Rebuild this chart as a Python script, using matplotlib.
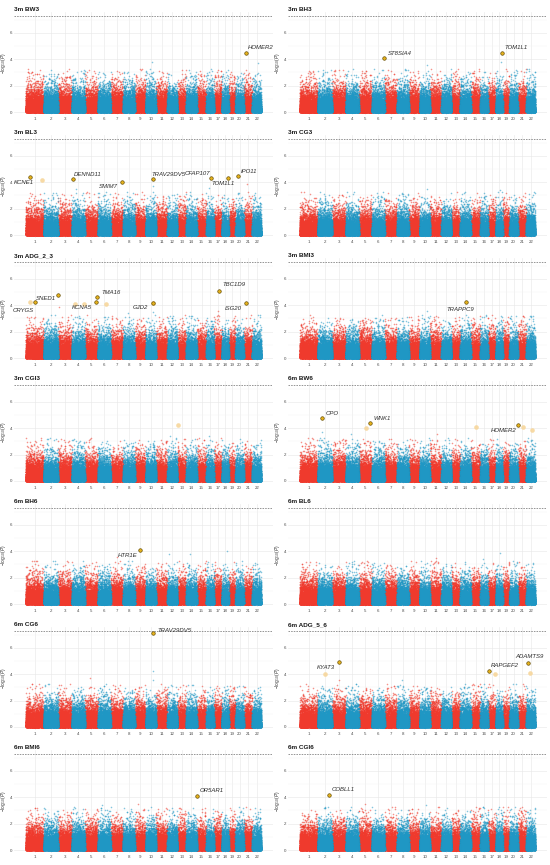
import numpy as np
import matplotlib
matplotlib.use('Agg')
import matplotlib.pyplot as plt

plt.rcParams['font.family'] = ['Liberation Sans', 'DejaVu Sans']
plt.rcParams['mathtext.fontset'] = 'custom'
plt.rcParams['mathtext.rm'] = 'Liberation Sans'
plt.rcParams['mathtext.it'] = 'Liberation Sans:italic'

# ---------------- data ----------------
CHROMS = [str(i) for i in range(1, 23)]
CHROM_LEN = [53, 43, 41, 39, 39, 38, 37, 35, 32, 31, 34, 30, 26, 32, 28, 23, 23, 21, 20, 25, 25, 27]

PANEL_TITLES = ['3m BW3', '3m BH3', '3m BL3', '3m CG3', '3m ADG_2_3', '3m BMI3', '3m CGI3',
                '6m BW6', '6m BH6', '6m BL6', '6m CG6', '6m ADG_5_6', '6m BMI6', '6m CGI6']
THRESHOLD = 7.3

# labelled lead SNPs (panel index, chromosome, relative position in chromosome, -log10 P, gene)
HIT_PANEL = [0, 1, 1, 2, 2, 2, 2, 2, 2, 2, 4, 4, 4, 4, 4, 4, 4, 5, 7, 7, 7, 8, 10, 11, 11, 11, 12, 13]
HIT_CHROM = [21, 6, 18, 1, 4, 7, 10, 16, 18, 20, 1, 3, 5, 5, 10, 17, 21, 14, 2, 5, 21, 9, 10, 3, 17, 22, 14, 2]
HIT_POS = [0.32, 0.95, 0.85, 0.25, 0.10, 0.90, 0.74, 0.60, 0.95, 0.28, 0.50, 0.02, 0.82, 0.95, 0.74,
           0.70, 0.28, 0.55, 0.30, 0.85, 0.04, 0.53, 0.74, 0.50, 0.20, 0.15, 0.99, 0.77]
HIT_LOGP = [4.50, 4.10, 4.50, 4.43, 4.23, 4.05, 4.23, 4.30, 4.35, 4.48, 4.25, 4.80, 4.25, 4.63, 4.15,
            5.06, 4.20, 4.25, 4.80, 4.42, 4.23, 4.12, 7.16, 4.93, 4.28, 4.86, 4.10, 4.20]
HIT_GENE = ['HOMER2', 'ST8SIA4', 'TOM1L1', 'KCNE1', 'DENND11', 'SMIM7', 'TRAV29DV5', 'CFAP107',
            'TOM1L1', 'IPO11', 'CRYGS', 'SNED1', 'KCNA5', 'TMA16', 'GJD2', 'TBC1D9', 'ISG20',
            'TRAPPC9', 'CPO', 'WNK1', 'HOMER2', 'HTR1E', 'TRAV29DV5', 'KYAT3', 'RAPGEF2',
            'ADAMTS9', 'OR5AR1', 'COBLL1']

# un-labelled (faded) suggestive SNPs
FADE_PANEL = [2, 4, 4, 4, 4, 4, 6, 7, 7, 7, 7, 11, 11, 11]
FADE_CHROM = [1, 1, 4, 4, 6, 10, 13, 5, 15, 21, 22, 2, 17, 22]
FADE_POS = [0.90, 0.25, 0.23, 0.97, 0.66, 0.74, 0.08, 0.56, 0.57, 0.68, 0.67, 0.49, 0.95, 0.44]
FADE_LOGP = [4.15, 4.25, 4.12, 4.12, 4.12, 4.15, 4.25, 4.05, 4.10, 4.10, 3.90, 4.05, 4.05, 4.10]

# tallest non-highlighted SNPs
PEAK_PANEL = [0, 0, 0, 0, 0, 0, 0, 1, 1, 1, 2, 2, 2, 2, 2, 3, 3, 3, 3, 4, 4, 4, 4, 4,
              5, 5, 5, 6, 6, 6, 6, 7, 7, 7, 8, 8, 8, 8, 8, 9, 9, 9, 10, 10, 10, 10, 10,
              11, 11, 11, 11, 12, 12, 12, 13, 13, 13, 13]
PEAK_CHROM = [10, 22, 21, 11, 13, 8, 16, 18, 10, 3, 10, 21, 4, 16, 8, 10, 6, 14, 18, 3, 14, 17, 10, 8,
              10, 17, 5, 12, 5, 16, 20, 2, 4, 11, 12, 14, 18, 7, 1, 18, 11, 16, 10, 10, 5, 14, 12,
              8, 3, 14, 16, 6, 9, 15, 5, 10, 16, 21]
PEAK_POS = [0.60, 0.60, 0.30, 0.50, 0.50, 0.40, 0.40, 0.80, 0.70, 0.50, 0.70, 0.40, 0.30, 0.40, 0.50,
            0.70, 0.40, 0.50, 0.60, 0.05, 0.50, 0.50, 0.70, 0.40, 0.70, 0.50, 0.50, 0.30, 0.50, 0.40,
            0.50, 0.30, 0.40, 0.60, 0.20, 0.40, 0.70, 0.50, 0.60, 0.60, 0.50, 0.40, 0.74, 0.70, 0.40,
            0.60, 0.50, 0.40, 0.50, 0.50, 0.50, 0.30, 0.30, 0.50, 0.50, 0.60, 0.40, 0.50]
PEAK_LOGP = [3.80, 3.70, 3.20, 3.00, 2.90, 3.00, 3.00, 3.80, 3.60, 3.20, 3.70, 3.90, 3.50, 3.60, 2.90,
             3.50, 3.20, 3.30, 3.40, 3.90, 3.00, 3.60, 3.50, 3.40, 3.60, 3.30, 3.00, 3.40, 3.30, 3.40,
             3.20, 3.70, 3.60, 3.60, 3.80, 3.80, 4.00, 3.60, 3.30, 3.90, 3.50, 3.40, 4.25, 3.60, 3.70,
             3.20, 3.10, 3.60, 3.60, 3.30, 3.30, 3.40, 3.50, 3.10, 3.50, 3.40, 3.30, 3.30]

# ---------------- style ----------------
RED = '#ef3a2d'
BLUE = '#1f97c4'
HIT_FILL = '#e6b21c'
HIT_EDGE = '#5e4700'
FADE_FILL = '#f7d69b'
GRID = '#e9e9e9'

# label placement (pixels relative to the point, horizontal alignment)
LABEL_OFFSETS = {
    (0, 'HOMER2'): (1, 5, 'left'), (1, 'ST8SIA4'): (4, 5, 'left'), (1, 'TOM1L1'): (3, 5, 'left'),
    (2, 'KCNE1'): (4, -5.5, 'right'), (2, 'DENND11'): (1, 5, 'left'), (2, 'SMIM7'): (-3.5, -5, 'right'),
    (2, 'TRAV29DV5'): (-1.5, 5, 'left'), (2, 'CFAP107'): (-1, 5, 'right'), (2, 'TOM1L1'): (6, -5.5, 'right'),
    (2, 'IPO11'): (3.5, 4.5, 'left'), (4, 'CRYGS'): (-1, -8, 'right'), (4, 'SNED1'): (-2.5, -4, 'right'),
    (4, 'KCNA5'): (-3.5, -5, 'right'), (4, 'TMA16'): (4.5, 4.5, 'left'), (4, 'GJD2'): (-5, -4.5, 'right'),
    (4, 'TBC1D9'): (3.5, 6.5, 'left'), (4, 'ISG20'): (-4, -5.5, 'right'), (5, 'TRAPPC9'): (-6, -7, 'center'),
    (7, 'CPO'): (3.5, 4, 'left'), (7, 'WNK1'): (3.5, 4, 'left'), (7, 'HOMER2'): (-2, -5.5, 'right'),
    (8, 'HTR1E'): (-2.5, -5.5, 'right'), (10, 'TRAV29DV5'): (4, 2, 'left'), (11, 'KYAT3'): (-4, -5, 'right'),
    (11, 'RAPGEF2'): (1.5, 5, 'left'), (11, 'ADAMTS9'): (1.5, 6, 'center'), (12, 'OR5AR1'): (2.5, 5.3, 'left'),
    (13, 'COBLL1'): (3, 5, 'left'),
}

FIG_W, FIG_H = 550, 865
PX_PER_UNIT = 13.17
YMIN, YMAX = -0.23, 7.6

offsets = np.concatenate([[0], np.cumsum(CHROM_LEN)[:-1]])
total = float(np.sum(CHROM_LEN))
centers = offsets + np.array(CHROM_LEN) / 2.0


def genome_x(chrom, pos):
    return offsets[chrom - 1] + pos * CHROM_LEN[chrom - 1]


fig = plt.figure(figsize=(FIG_W / 100, FIG_H / 100), dpi=100)

N_PER_UNIT = 75  # background marker density (SNPs per length unit)

for i, title in enumerate(PANEL_TITLES):
    r, c = divmod(i, 2)
    zero_px = 112 + 123 * r
    top_px = zero_px - YMAX * PX_PER_UNIT
    bot_px = zero_px - YMIN * PX_PER_UNIT
    left_px = 14 if c == 0 else 288
    w_px = 259
    ax = fig.add_axes([left_px / FIG_W, 1 - bot_px / FIG_H, w_px / FIG_W, (bot_px - top_px) / FIG_H])

    # background (null) SNP cloud, seeded
    rng = np.random.default_rng(1000 + i)
    xs = {0: [], 1: []}
    ys = {0: [], 1: []}
    for ci, L in enumerate(CHROM_LEN):
        n = int(N_PER_UNIT * L)
        x = offsets[ci] + rng.uniform(0, L, n)
        y = rng.exponential(1.0 / np.log(10) * 1.12, n)
        keep = y < 3.3
        xs[ci % 2].append(x[keep])
        ys[ci % 2].append(y[keep])
    for k in range(len(PEAK_PANEL)):
        if PEAK_PANEL[k] == i:
            ch = PEAK_CHROM[k]
            xs[(ch - 1) % 2].append(np.array([genome_x(ch, PEAK_POS[k])]))
            ys[(ch - 1) % 2].append(np.array([PEAK_LOGP[k]]))
    for par, col in ((0, RED), (1, BLUE)):
        ax.scatter(np.concatenate(xs[par]), np.concatenate(ys[par]), s=1.3, c=col, alpha=0.55,
                   linewidths=0, rasterized=True, zorder=2)

    # faded suggestive SNPs
    for k in range(len(FADE_PANEL)):
        if FADE_PANEL[k] == i:
            ax.scatter([genome_x(FADE_CHROM[k], FADE_POS[k])], [FADE_LOGP[k]], s=11,
                       c=FADE_FILL, linewidths=0, alpha=0.9, zorder=3)

    # labelled hits
    for k in range(len(HIT_PANEL)):
        if HIT_PANEL[k] == i:
            hx = genome_x(HIT_CHROM[k], HIT_POS[k])
            hy = HIT_LOGP[k]
            ax.scatter([hx], [hy], s=6.5, c=HIT_FILL, edgecolors=HIT_EDGE, linewidths=0.45, zorder=4)
            dx, dy, ha = LABEL_OFFSETS[(i, HIT_GENE[k])]
            ax.annotate(HIT_GENE[k], (hx, hy), xytext=(dx * 0.72, dy * 0.72), textcoords='offset points',
                        ha=ha, va='center', fontsize=4.3, style='italic', color='#2b2b2b', zorder=5)

    ax.axhline(THRESHOLD, color='#6a6a6a', lw=0.5, ls=(0, (2.2, 1.6)), zorder=1)

    ax.set_xlim(-0.05 * total, 1.05 * total)
    ax.set_ylim(YMIN, YMAX)
    ax.set_xticks(centers)
    ax.set_xticklabels(CHROMS)
    ax.set_yticks([0, 2, 4, 6])
    ax.set_yticks([1, 3, 5, 7], minor=True)
    ax.tick_params(axis='both', which='both', length=0, labelsize=3.2, labelcolor='#4d4d4d', pad=1.2)
    ax.grid(True, which='major', color=GRID, lw=0.45, zorder=0)
    ax.grid(True, which='minor', axis='y', color='#f2f2f2', lw=0.3, zorder=0)
    ax.set_axisbelow(True)
    for s in ax.spines.values():
        s.set_visible(False)
    ax.set_ylabel(r'$-\log_{10}(P)$', fontsize=3.4, color='#333333', labelpad=1.5)
    ax.text(0.0, 1.0, title, transform=ax.transAxes, ha='left', va='bottom', fontsize=4.6,
            fontweight='bold', color='#1a1a1a')

fig.savefig('out.png', dpi=100, facecolor='white')
